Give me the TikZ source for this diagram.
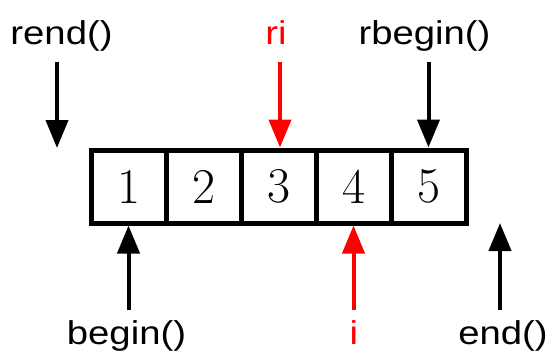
\documentclass[tikz,border=0pt]{standalone}
\usepackage{fontspec}
\newfontfamily\lab[FakeStretch=1.16]{Liberation Sans}
\usetikzlibrary{arrows.meta}
\definecolor{itred}{RGB}{255,0,0}
\tikzset{
  cell/.style={draw, line width=5pt, minimum width=75pt, minimum height=73pt,
    inner sep=0pt, outer sep=0pt, font=\fontsize{50}{50}\selectfont},
  lbl/.style={anchor=base, inner sep=0pt, font=\lab\fontsize{33}{33}\selectfont},
  arr/.style={line width=4pt, -{Triangle[length=28pt,width=22pt]}},
}
\begin{document}
\begin{tikzpicture}[x=1pt,y=-1pt]
\useasboundingbox (0,0) rectangle (550,356);
% cells
\node[cell] (c1) at (128.5,186.5) {1};
\node[cell] (c2) at (203.5,186.5) {2};
\node[cell] (c3) at (278.5,186.5) {3};
\node[cell] (c4) at (353.5,186.5) {4};
\node[cell] (c5) at (428.5,186.5) {5};
% labels
\node[lbl] (rend) at (61.5,45) {rend()};
\node[lbl, text=itred] (ri) at (276,45) {ri};
\node[lbl] (rbegin) at (424.5,45) {rbegin()};
\node[lbl] (begin) at (126.5,344) {begin()};
\node[lbl, text=itred] (i) at (354,344) {i};
\node[lbl] (end) at (503,344) {end()};
% arrow tails and free tips
\coordinate (rendT) at (57,62);
\coordinate (rendH) at (57,148);
\coordinate (riT) at (280,62);
\coordinate (rbeginT) at (428.5,62);
\coordinate (beginT) at (128.5,310);
\coordinate (iT) at (353.5,310);
\coordinate (endT) at (500,310);
\coordinate (endH) at (500,223);
% arrows
\draw[arr] (rendT) -- (rendH);
\draw[arr, draw=itred, fill=itred] (riT) -- ([xshift=1.5pt,yshift=2.5pt]c3.north);
\draw[arr] (rbeginT) -- ([yshift=2.5pt]c5.north);
\draw[arr] (beginT) -- ([yshift=-2.5pt]c1.south);
\draw[arr, draw=itred, fill=itred] (iT) -- ([yshift=-2.5pt]c4.south);
\draw[arr] (endT) -- (endH);
\end{tikzpicture}
\end{document}
